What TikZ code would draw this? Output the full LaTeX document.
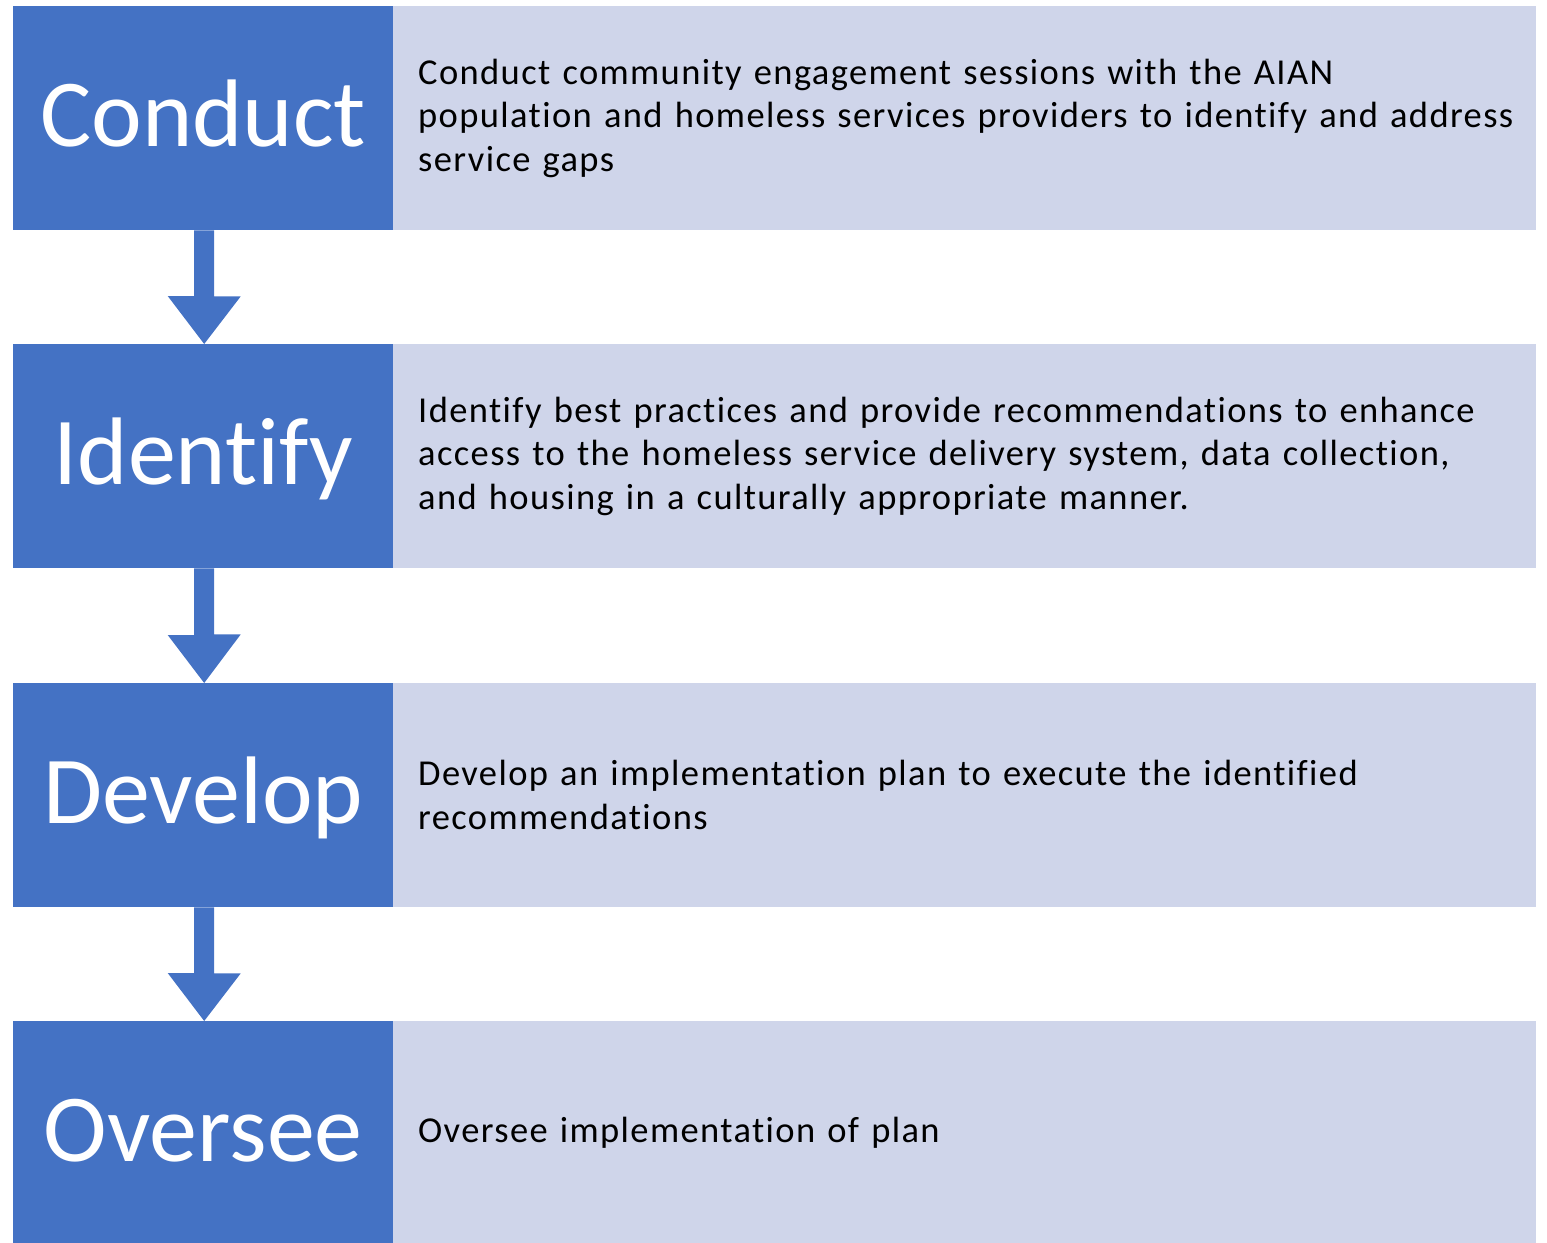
\documentclass[tikz,border=0pt]{standalone}
\usepackage{fontspec}
\setmainfont[Ligatures={NoCommon}]{Carlito}
\newfontfamily\bodyfont[Ligatures={NoCommon},LetterSpace=3.8]{Carlito}
\definecolor{stepblue}{HTML}{4472C4}
\definecolor{steplight}{HTML}{CFD5EA}
\begin{document}
\begin{tikzpicture}[x=1pt,y=-1pt,
  headbox/.style={fill=stepblue, text=white, anchor=north west, minimum width=380pt, minimum height=224pt, inner sep=0pt, text height=76pt, text depth=20pt, font=\fontsize{96}{116}\selectfont},
  descbox/.style={fill=steplight, text=black, anchor=north west, minimum width=1143pt, minimum height=224pt, inner xsep=0pt, inner ysep=0pt, text width=1143pt, align=left, font=\bodyfont\fontsize{36.5}{43.5}\selectfont},
  flowarrow/.style={fill=stepblue}]
\useasboundingbox (0,0) rectangle (1547,1242);
\clip (0,0) rectangle (1547,1242);
\node[headbox] (h1) at (13,6) {Conduct};
\node[headbox] (h2) at (13,344) {Identify};
\node[headbox] (h3) at (13,683) {Develop};
\node[headbox] (h4) at (13,1021) {Oversee};
\node[descbox] (d1) at (393,6) {\hspace*{25pt}\parbox{1115pt}{Conduct community engagement sessions with the AIAN\\population and homeless services providers to identify and address\\service gaps}};
\node[descbox] (d2) at (393,344) {\hspace*{25pt}\parbox{1115pt}{Identify best practices and provide recommendations to enhance\\access to the homeless service delivery system, data collection,\\and housing in a culturally appropriate manner.}};
\node[descbox] (d3) at (393,683) {\hspace*{25pt}\parbox{1115pt}{Develop an implementation plan to execute the identified\\recommendations}};
\node[descbox] (d4) at (393,1021) {\hspace*{25pt}\parbox{1115pt}{Oversee implementation of plan}};
\foreach \a/\b in {h1/h2,h2/h3,h3/h4}{
  \fill[flowarrow] ([xshift=-9pt]\a.south) -- ++(20,0) -- ++(0,66) -- ++(26.5,0) -- ([xshift=1pt]\b.north) -- ++(-36.5,-48) -- ++(26.5,0) -- cycle;
}
\end{tikzpicture}
\end{document}
